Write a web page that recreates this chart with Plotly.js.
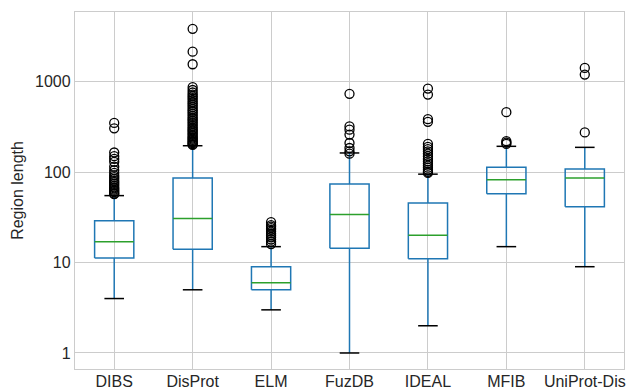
<!DOCTYPE html>
<html>
<head>
<meta charset="utf-8">
<script src="https://cdn.plot.ly/plotly-3.0.1.min.js"></script>
<style>html,body{margin:0;padding:0;background:#fff;}#chart{width:627px;height:390px;}</style>
</head>
<body>
<div id="chart"></div>
<script>
const categories = ["DIBS", "DisProt", "ELM", "FuzDB", "IDEAL", "MFIB", "UniProt-Dis"];
const lowerWhisker = [4, 5, 3, 1, 2, 15, 9];
const q1 = [11.2, 14, 5, 14.4, 11, 57.6, 41.4];
const median = [17, 30.7, 6, 34, 20, 82.4, 86];
const q3 = [29, 86, 9, 73.8, 45.5, 113, 108];
const upperWhisker = [55, 196, 15, 163, 95, 193, 188];
const fliersDIBS = [350, 305, 165, 150, 140, 130, 115, 105, 98, 92, 88, 84, 80, 77, 74, 71, 68, 66, 64, 62, 60, 58, 57];
const fliersDisProt = [3850, 2150, 1560, 870, 810, 760, 720, 690, 660, 630, 600, 575, 550, 525, 500, 480, 460, 440, 420, 400, 385, 370, 355, 340, 325, 312, 300, 290, 280, 270, 260, 250, 242, 235, 228, 221, 215, 209, 204, 200];
const fliersELM = [28, 26, 25, 24, 23, 22, 21, 20, 19, 18, 17, 16];
const fliersFuzDB = [735, 320, 295, 260, 210, 185, 170, 160];
const fliersIDEAL = [840, 720, 385, 360, 205, 190, 180, 170, 160, 150, 140, 132, 125, 118, 112, 106, 101, 98];
const fliersMFIB = [460, 220, 212, 205];
const fliersUniProt = [1420, 1200, 275];
const fliers = [fliersDIBS, fliersDisProt, fliersELM, fliersFuzDB, fliersIDEAL, fliersMFIB, fliersUniProt];

const BOX_HALF = 0.25, CAP_HALF = 0.125;
const boxX = [], boxY = [], whX = [], whY = [], medX = [], medY = [], capX = [], capY = [], flX = [], flY = [];
categories.forEach((c, i) => {
  boxX.push(i - BOX_HALF, i + BOX_HALF, i + BOX_HALF, i - BOX_HALF, i - BOX_HALF, null);
  boxY.push(q1[i], q1[i], q3[i], q3[i], q1[i], null);
  whX.push(i, i, null, i, i, null);
  whY.push(q3[i], upperWhisker[i], null, q1[i], lowerWhisker[i], null);
  medX.push(i - BOX_HALF, i + BOX_HALF, null);
  medY.push(median[i], median[i], null);
  capX.push(i - CAP_HALF, i + CAP_HALF, null, i - CAP_HALF, i + CAP_HALF, null);
  capY.push(upperWhisker[i], upperWhisker[i], null, lowerWhisker[i], lowerWhisker[i], null);
  fliers[i].forEach(v => { flX.push(i); flY.push(v); });
});

const traces = [
  {x: whX, y: whY, mode: "lines", line: {color: "#1f77b4", width: 1.5}, hoverinfo: "skip"},
  {x: boxX, y: boxY, mode: "lines", line: {color: "#1f77b4", width: 1.5}, hoverinfo: "skip"},
  {x: medX, y: medY, mode: "lines", line: {color: "#2ca02c", width: 1.5}, hoverinfo: "skip"},
  {x: capX, y: capY, mode: "lines", line: {color: "#000000", width: 1.5}, hoverinfo: "skip"},
  {x: flX, y: flY, mode: "markers", marker: {symbol: "circle-open", size: 9, color: "#000000", line: {width: 1.3, color: "#000000"}}, hoverinfo: "skip"}
];

const layout = {
  width: 627, height: 390,
  margin: {l: 75, r: 3, t: 12, b: 21},
  paper_bgcolor: "#ffffff", plot_bgcolor: "#ffffff",
  showlegend: false,
  font: {family: "Liberation Sans, Arial, sans-serif", size: 16, color: "#262626"},
  xaxis: {
    type: "linear", range: [-0.5, 6.5],
    tickmode: "array", tickvals: categories.map((c, i) => i), ticktext: categories,
    showgrid: true, gridcolor: "#cccccc", gridwidth: 1,
    showline: true, linecolor: "#cccccc", linewidth: 1.2, mirror: true,
    ticks: "", zeroline: false, ticklabelstandoff: -2
  },
  yaxis: {
    type: "log", range: [-0.177, 3.771],
    tickmode: "array", tickvals: [1, 10, 100, 1000], ticktext: ["1", "10", "100", "1000"],
    showgrid: true, gridcolor: "#cccccc", gridwidth: 1,
    showline: true, linecolor: "#cccccc", linewidth: 1.2, mirror: true,
    ticks: "", zeroline: false,
    title: {text: "Region length", font: {size: 16}, standoff: 7}
  }
};
Plotly.newPlot("chart", traces, layout, {staticPlot: true, displayModeBar: false});
</script>
</body>
</html>
